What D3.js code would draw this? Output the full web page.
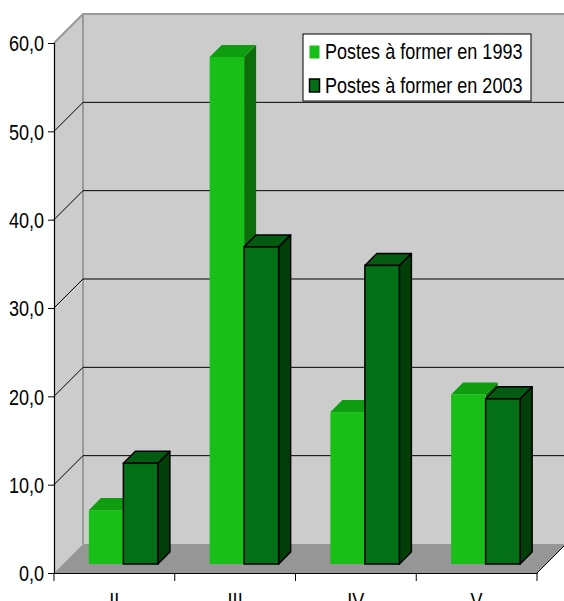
<!DOCTYPE html>
<html lang="fr">
<head>
<meta charset="UTF-8">
<title>Postes à former</title>
<script src="https://d3js.org/d3.v7.min.js"></script>
<style>
    body { margin: 0; background: #fff; }
    svg { display: block; }
    text { font-family: "Liberation Sans", Arial, sans-serif; font-size: 22px; fill: #000; }
</style>
</head>
<body>
<svg width="564" height="601"></svg>
<script>
    // Data
    const categories = ["II", "III", "IV", "V"];
    const seriesNames = ["Postes à former en 1993", "Postes à former en 2003"];
    const values1993 = [6.1, 57.4, 17.2, 19.2];
    const values2003 = [11.4, 35.9, 33.8, 18.7];
    const yTicks = [0, 10, 20, 30, 40, 50, 60];

    const svg = d3.select("svg");

    // plot frame (front plane)
    const plotLeft = 54, plotRight = 537, plotTop = 43, plotBottom = 573;
    const depth = 29;        // wall depth offset
    const barD0 = 9, barD1 = 21; // bar depth range
    const sx = 0.82;         // narrow text look

    const x = d3.scaleBand().domain(categories).range([plotLeft, plotRight]).padding(0);
    const xs = d3.scaleBand().domain(seriesNames).range([0, x.bandwidth()])
        .paddingInner(0).paddingOuter(0.75);
    const y = d3.scaleLinear().domain([0, 60]).range([plotBottom, plotTop]);

    const fill = {
        "Postes à former en 1993": { front: "#17bf17", top: "#109c10", side: "#0b6e0b", stroke: "none" },
        "Postes à former en 2003": { front: "#037018", top: "#035a11", side: "#003f08", stroke: "#000" }
    };

    const poly = pts => pts.map(p => p.join(",")).join(" ");

    // left wall
    svg.append("polygon")
        .attr("points", poly([[plotLeft, y(60)], [plotLeft + depth, y(60) - depth], [plotLeft + depth, y(0) - depth], [plotLeft, y(0)]]))
        .attr("fill", "#cccccc");
    // back wall
    svg.append("polygon")
        .attr("points", poly([[plotLeft + depth, y(60) - depth], [plotRight + depth + 40, y(60) - depth], [plotRight + depth + 40, y(0) - depth], [plotLeft + depth, y(0) - depth]]))
        .attr("fill", "#cccccc");
    // floor
    svg.append("polygon")
        .attr("points", poly([[plotLeft, y(0)], [plotLeft + depth, y(0) - depth], [plotRight + depth, y(0) - depth], [plotRight, y(0)]]))
        .attr("fill", "#969696");

    // wall edges
    const edge = svg.append("g").attr("stroke", "#999").attr("stroke-width", 2).attr("fill", "none");
    edge.append("polyline")
        .attr("points", poly([[plotLeft, y(60)], [plotLeft + depth, y(60) - depth], [564, y(60) - depth]]));
    edge.append("line")
        .attr("x1", plotLeft + depth).attr("x2", plotLeft + depth)
        .attr("y1", y(60) - depth).attr("y2", y(0) - depth);

    // gridlines
    const grid = svg.append("g").attr("stroke", "#000").attr("stroke-width", 1).attr("fill", "none");
    yTicks.filter(t => t > 0 && t < 60).forEach(t => {
        grid.append("polyline")
            .attr("points", poly([[plotLeft, y(t)], [plotLeft + depth, y(t) - depth], [564, y(t) - depth]]));
    });

    // bars (3D boxes)
    const rows = categories.map((c, i) => [
        { cat: c, name: seriesNames[0], v: values1993[i] },
        { cat: c, name: seriesNames[1], v: values2003[i] }
    ]).flat();

    const bw = xs.bandwidth();
    const dd = barD1 - barD0;
    const bars = svg.append("g").selectAll("g").data(rows).join("g");
    bars.each(function (d) {
        const g = d3.select(this);
        const c = fill[d.name];
        const x0 = x(d.cat) + xs(d.name) + barD0;
        const x1 = x0 + bw;
        const yt = y(d.v) - barD0;
        const yb = y(0) - barD0;
        const sw = c.stroke === "none" ? 0 : 1.5;
        g.append("polygon") // side
            .attr("points", poly([[x1, yt], [x1 + dd, yt - dd], [x1 + dd, yb - dd], [x1, yb]]))
            .attr("fill", c.side).attr("stroke", c.stroke).attr("stroke-width", sw).attr("stroke-linejoin", "round");
        g.append("polygon") // top
            .attr("points", poly([[x0, yt], [x0 + dd, yt - dd], [x1 + dd, yt - dd], [x1, yt]]))
            .attr("fill", c.top).attr("stroke", c.stroke).attr("stroke-width", sw).attr("stroke-linejoin", "round");
        g.append("rect") // front
            .attr("x", x0).attr("y", yt).attr("width", bw).attr("height", yb - yt)
            .attr("fill", c.front).attr("stroke", c.stroke).attr("stroke-width", sw);
    });

    // y axis
    const fmt = d3.formatLocale({ decimal: ",", thousands: " ", grouping: [3], currency: ["", "€"] }).format(".1f");
    const yAxis = svg.append("g")
        .attr("transform", `translate(${plotLeft},0)`)
        .call(d3.axisLeft(y).tickValues(yTicks).tickFormat(fmt).tickSize(6).tickPadding(4));
    yAxis.select(".domain").attr("stroke", "#000").attr("stroke-width", 1.2);
    yAxis.selectAll(".tick line").attr("stroke", "#000");
    yAxis.selectAll(".tick text")
        .attr("font-size", null).attr("font-family", null)
        .attr("x", -10 / sx).attr("dy", "0.36em")
        .attr("transform", `scale(${sx},1)`);

    // x axis
    const xAxis = svg.append("g")
        .attr("transform", `translate(0,${plotBottom})`)
        .call(d3.axisBottom(x).tickSize(0).tickPadding(19));
    xAxis.select(".domain").attr("stroke", "#000").attr("stroke-width", 1.2);
    xAxis.selectAll(".tick text")
        .attr("font-size", null).attr("font-family", null)
        .attr("x", 0)
        .attr("transform", `scale(${sx},1)`);
    const bounds = categories.map(c => x(c)).concat([x.range()[1]]);
    xAxis.selectAll(".bound").data(bounds).join("line")
        .attr("class", "bound")
        .attr("x1", d => d).attr("x2", d => d)
        .attr("y1", 0).attr("y2", 8)
        .attr("stroke", "#000").attr("stroke-width", 1);
    // floor right edge
    svg.append("line")
        .attr("x1", plotRight).attr("y1", plotBottom).attr("x2", plotRight + depth).attr("y2", plotBottom - depth)
        .attr("stroke", "#000").attr("stroke-width", 1);

    // legend
    const legend = svg.append("g").attr("transform", "translate(303,34)");
    legend.append("rect")
        .attr("width", 228).attr("height", 67)
        .attr("fill", "#fff").attr("stroke", "#000").attr("stroke-width", 1);
    seriesNames.forEach((s, i) => {
        const c = fill[s];
        legend.append("rect")
            .attr("x", 6.5).attr("y", 11.5 + i * 33.5)
            .attr("width", 10).attr("height", 13)
            .attr("fill", c.front)
            .attr("stroke", c.stroke).attr("stroke-width", c.stroke === "none" ? 0 : 1.5);
        legend.append("text")
            .attr("transform", `translate(22,${25 + i * 34}) scale(${sx},1)`)
            .text(s);
    });
</script>
</body>
</html>
